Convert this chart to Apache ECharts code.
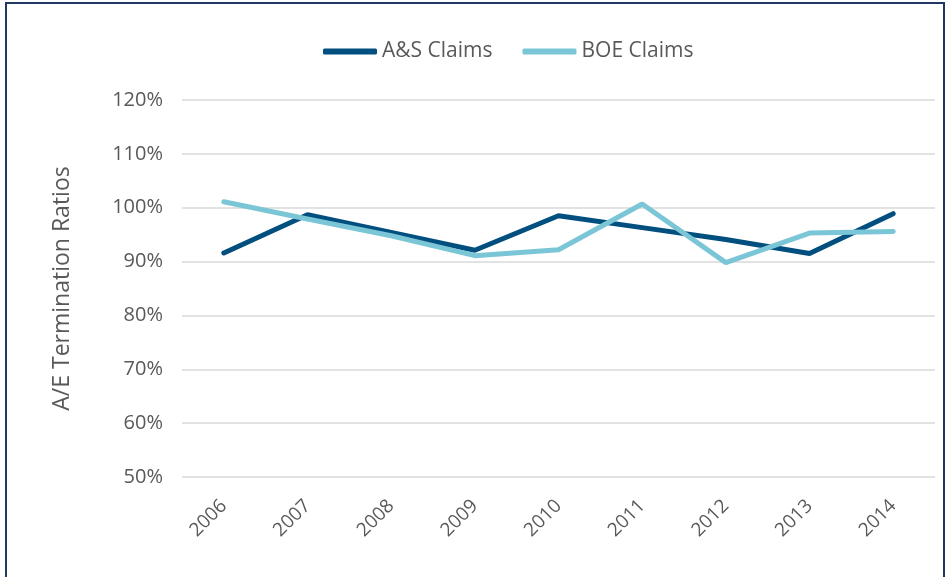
<!DOCTYPE html>
<html>
<head>
<meta charset="utf-8">
<script src="https://cdn.jsdelivr.net/npm/echarts@6/dist/echarts.min.js"></script>
<style>
  html, body { margin: 0; padding: 0; background: #fff; }
  #frame { position: absolute; left: 5px; top: 2px; width: 940px; height: 580px; border: 2px solid #1f3864; box-sizing: border-box; }
  #chart { position: absolute; left: 0; top: 0; width: 952px; height: 577px; }
</style>
</head>
<body>
<div id="frame"></div>
<div id="chart"></div>
<script>
"use strict";

// years on the x axis
const years = ["2006", "2007", "2008", "2009", "2010", "2011", "2012", "2013", "2014"];

// A/E ratios in percent
const asClaims = [91.6, 98.7, 95.4, 92.1, 98.5, 96.3, 94.1, 91.5, 98.9];
const boeClaims = [101.1, 97.9, 94.8, 91.1, 92.2, 100.7, 89.8, 95.3, 95.6];

const textColor = "#595959";
const font = "'Open Sans', 'Noto Sans', sans-serif";

const chart = echarts.init(document.getElementById("chart"));

chart.setOption({
  animation: false,
  textStyle: { fontFamily: font },
  legend: {
    top: 36,
    left: 318,
    itemWidth: 54,
    itemHeight: 6,
    itemGap: 30,
    icon: "roundRect",
    textStyle: { fontSize: 21, color: textColor, fontFamily: font },
    data: ["A&S Claims", "BOE Claims"]
  },
  grid: { left: 182, right: 17, top: 100, bottom: 100 },
  xAxis: {
    type: "category",
    data: years,
    boundaryGap: true,
    axisLine: { show: false },
    axisTick: { show: false },
    axisLabel: { rotate: 45, fontSize: 19, color: textColor, margin: 26, fontFamily: font }
  },
  yAxis: {
    type: "value",
    min: 50,
    max: 120,
    interval: 10,
    name: "A/E Termination Ratios",
    nameLocation: "middle",
    nameGap: 108,
    nameTextStyle: { fontSize: 23, color: textColor, fontFamily: font },
    axisLine: { show: false },
    axisTick: { show: false },
    axisLabel: { formatter: "{value}%", fontSize: 20, color: textColor, margin: 19, fontFamily: font },
    splitLine: { lineStyle: { color: "#d9d9d9", width: 1.5 } }
  },
  series: [
    {
      name: "A&S Claims",
      type: "line",
      data: asClaims,
      symbol: "none",
      lineStyle: { color: "#004f7e", width: 5, cap: "round" },
      itemStyle: { color: "#004f7e" }
    },
    {
      name: "BOE Claims",
      type: "line",
      data: boeClaims,
      symbol: "none",
      lineStyle: { color: "#7bc6d6", width: 5, cap: "round" },
      itemStyle: { color: "#7bc6d6" }
    }
  ]
});
</script>
</body>
</html>
